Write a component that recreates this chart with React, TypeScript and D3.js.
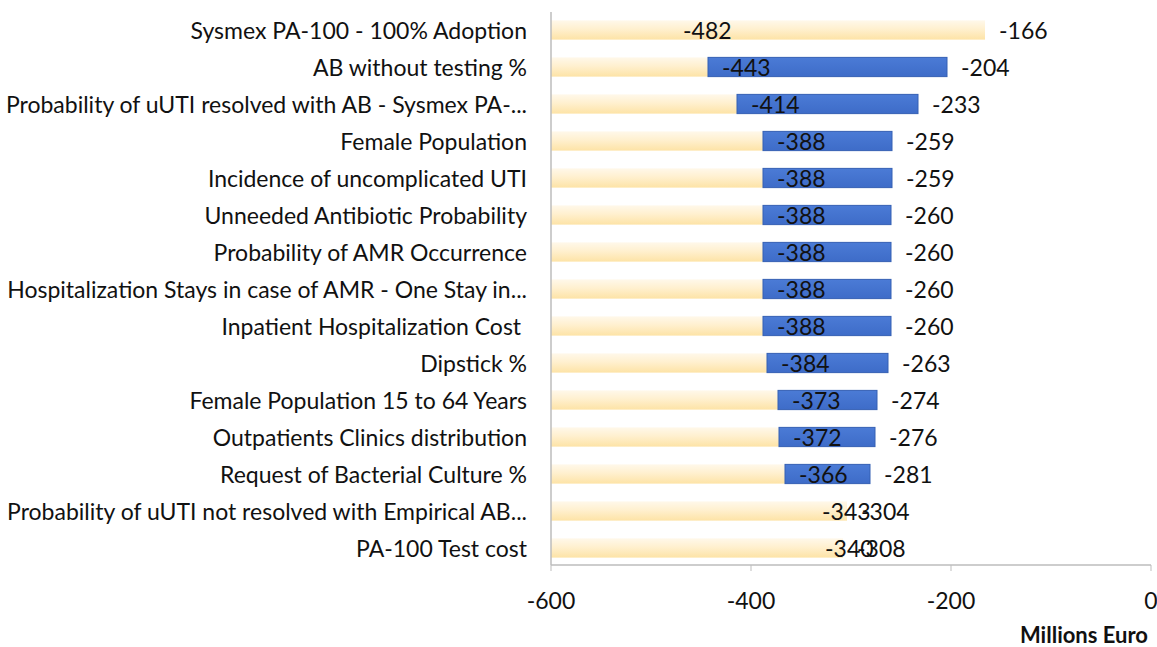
import React from "react";
import * as d3 from "d3";

const categories = [
  "Sysmex PA-100 - 100% Adoption",
  "AB without testing %",
  "Probability of uUTI resolved with AB - Sysmex PA-...",
  "Female Population",
  "Incidence of uncomplicated UTI",
  "Unneeded Antibiotic Probability",
  "Probability of AMR Occurrence",
  "Hospitalization Stays in case of AMR - One Stay in...",
  "Inpatient Hospitalization Cost ",
  "Dipstick %",
  "Female Population 15 to 64 Years",
  "Outpatients Clinics distribution",
  "Request of Bacterial Culture %",
  "Probability of uUTI not resolved with Empirical AB...",
  "PA-100 Test cost",
];
const lowValues = [-482, -443, -414, -388, -388, -388, -388, -388, -388, -384, -373, -372, -366, -343, -340];
const highValues = [-166, -204, -233, -259, -259, -260, -260, -260, -260, -263, -274, -276, -281, -304, -308];
// rows whose upper segment is drawn in the light colour (as in the reference)
const lightUpper = [true, false, false, false, false, false, false, false, false, false, false, false, false, true, true];
const xTicks = [-600, -400, -200, 0];
const xDomain = [-600, 0];
const axisTitle = "Millions Euro";

const W = 1157;
const H = 647;
const FONT = "Lato, 'Open Sans', sans-serif";

export default function App() {
  const x = d3.scaleLinear().domain(xDomain).range([551, 1151]);
  const y = d3.scaleBand<string>().domain(categories).range([11.5, 566.5]).paddingInner(0.48).paddingOuter(0.24);
  const bh = y.bandwidth();
  const axisY = 565;

  return (
    <svg width={W} height={H} style={{ position: "absolute", left: 0, top: 0, background: "#fff" }} fontFamily={FONT}>
      <defs>
        <linearGradient id="lightGrad" x1="0" y1="0" x2="0" y2="1">
          <stop offset="0%" stopColor="#FFF8EA" />
          <stop offset="45%" stopColor="#FFF0CF" />
          <stop offset="100%" stopColor="#FDE3A6" />
        </linearGradient>
        <linearGradient id="blueGrad" x1="0" y1="0" x2="0" y2="1">
          <stop offset="0%" stopColor="#4B7BD6" />
          <stop offset="100%" stopColor="#3E6CC8" />
        </linearGradient>
      </defs>
      <rect x={0} y={0} width={W} height={H} fill="#fff" />

      {categories.map((c, i) => {
        const yy = y(c)!;
        const lo = lowValues[i];
        const hi = highValues[i];
        return (
          <g key={c}>
            <rect x={x(xDomain[0])} y={yy} width={x(lo) - x(xDomain[0])} height={bh} fill="url(#lightGrad)" />
            {lightUpper[i] ? (
              <rect x={x(lo)} y={yy} width={x(hi) - x(lo)} height={bh} fill="url(#lightGrad)" />
            ) : (
              <rect x={x(lo)} y={yy} width={x(hi) - x(lo)} height={bh} fill="url(#blueGrad)" stroke="#3560B4" strokeWidth={1} />
            )}
          </g>
        );
      })}

      {/* y axis line */}
      <line x1={551} x2={551} y1={12} y2={axisY} stroke="#BDBDBD" strokeWidth={1.5} />
      {/* x axis line */}
      <line x1={551} x2={x(0)} y1={axisY} y2={axisY} stroke="#BDBDBD" strokeWidth={1.5} />
      {xTicks.map((t) => (
        <g key={t}>
          <line x1={x(t)} x2={x(t)} y1={axisY} y2={axisY + 6} stroke="#BDBDBD" strokeWidth={1} />
          <text x={x(t)} y={600} textAnchor="middle" dominantBaseline="central" fontSize={23} fill="#111">
            {t}
          </text>
        </g>
      ))}

      {categories.map((c, i) => {
        const cy = y(c)! + bh / 2;
        return (
          <g key={"l" + c}>
            <text x={527} y={cy} textAnchor="end" dominantBaseline="central" fontSize={23} fill="#111" style={{ whiteSpace: "pre" }}>
              {c}
            </text>
            <text x={x(lowValues[i]) + 14} y={cy} dominantBaseline="central" fontSize={23} fill="#111">
              {lowValues[i]}
            </text>
            <text x={x(highValues[i]) + 14} y={cy} dominantBaseline="central" fontSize={23} fill="#111">
              {highValues[i]}
            </text>
          </g>
        );
      })}

      <text x={1148} y={634} textAnchor="end" dominantBaseline="central" fontSize={22} fontWeight="bold" fill="#111">
        {axisTitle}
      </text>
    </svg>
  );
}
